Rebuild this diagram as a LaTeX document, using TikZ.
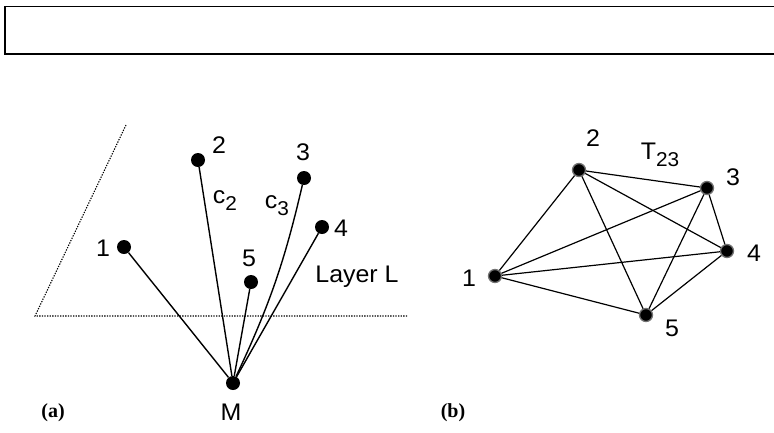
\documentclass[tikz,border=0pt]{standalone}
\usepackage{fontspec}
\setmainfont{Liberation Sans}
\newfontfamily\capfont{Liberation Serif}
\newcommand\wide[1]{\scalebox{1.04}[1]{#1}}
\newcommand\subs[1]{\raisebox{-7pt}{\fontsize{20}{20}\selectfont #1}}
\begin{document}
\begin{tikzpicture}[x=1pt,y=-1pt,
  dota/.style={circle,fill=black,inner sep=0pt,minimum size=14pt},
  dotb/.style={circle,fill=black,draw=black!55,line width=1.3pt,inner sep=0pt,minimum size=13pt},
  lbl/.style={font=\fontsize{24}{24}\selectfont,inner sep=0pt},
  edge/.style={line width=1.4pt},
  guide/.style={line width=1.1pt,dash pattern=on 1.3pt off 1.3pt},
  captext/.style={font=\capfont\bfseries\fontsize{20}{20}\selectfont,inner sep=0pt}]
\useasboundingbox (0,0) rectangle (774,432);
% top frame
\draw[line width=1.6pt] (780,6.5) -- (5,6.5) -- (5,54) -- (780,54);
% panel (a)
\coordinate (pl) at (35,316);
\coordinate (pr) at (408,316);
\coordinate (pt) at (126,125);
\draw[guide] (pt) -- (pl) -- (pr);
\node[dota] (a1) at (124,247) {};
\node[dota] (a2) at (198,160) {};
\node[dota] (a3) at (304,178) {};
\node[dota] (a4) at (322,227) {};
\node[dota] (a5) at (251,282) {};
\node[dota] (aM) at (233,383) {};
\draw[edge] (a1) -- (aM);
\draw[edge] (a2) -- (aM);
\draw[edge] (a5) -- (aM);
\draw[edge] (a4) -- (aM);
\draw[edge] (a3) to[bend left=6] (aM);
\node[lbl] (la1) at (103,248) {\wide{1}};
\node[lbl] (la2) at (219,145) {\wide{2}};
\node[lbl] (la3) at (303,152) {\wide{3}};
\node[lbl] (la4) at (341,228) {\wide{4}};
\node[lbl] (la5) at (249,258) {\wide{5}};
\node[lbl] (laM) at (231,412) {\wide{M}};
\node[lbl] (lc2) at (225,201) {\wide{c\subs{2}}};
\node[lbl] (lc3) at (277,206) {\wide{c\subs{3}}};
\node[lbl] (layer) at (357,277) {\wide{Layer L}};
\node[captext] (capa) at (53,413) {(a)};
% panel (b)
\node[dotb] (b1) at (495,276) {};
\node[dotb] (b2) at (579,170) {};
\node[dotb] (b3) at (707,188) {};
\node[dotb] (b4) at (727,251) {};
\node[dotb] (b5) at (646,315) {};
\foreach \s/\t in {1/2,1/3,1/4,1/5,2/3,2/4,2/5,3/4,3/5,4/5}
  \draw[edge,line width=1.2pt] (b\s) -- (b\t);
\node[lbl] (lb1) at (469,278) {\wide{1}};
\node[lbl] (lb2) at (593,138) {\wide{2}};
\node[lbl] (lb3) at (733,177) {\wide{3}};
\node[lbl] (lb4) at (754,253) {\wide{4}};
\node[lbl] (lb5) at (672,328) {\wide{5}};
\node[lbl] (lT) at (660,155) {\wide{T\subs{23}}};
\node[captext] (capb) at (453,413) {(b)};
\end{tikzpicture}
\end{document}
